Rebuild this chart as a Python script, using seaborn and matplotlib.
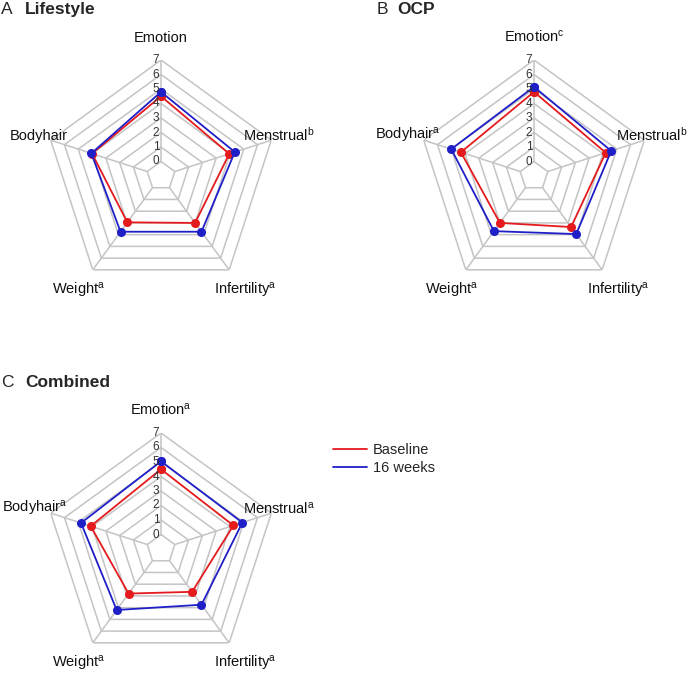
import numpy as np
import pandas as pd
import matplotlib
matplotlib.use("Agg")
import matplotlib.pyplot as plt
from matplotlib.lines import Line2D
import seaborn as sns

# ---------------- data ----------------
categories = ["Emotion", "Menstrual", "Infertility", "Weight", "Bodyhair"]
ring_ticks = [0, 1, 2, 3, 4, 5, 6, 7]
time_labels = ["Baseline", "16 weeks"]

lifestyle_baseline = [4.5, 3.95, 3.0, 2.95, 4.0]
lifestyle_16weeks = [4.8, 4.35, 3.75, 3.75, 4.05]
ocp_baseline = [4.8, 4.2, 3.35, 3.0, 4.3]
ocp_16weeks = [5.15, 4.6, 3.95, 3.7, 5.0]
combined_baseline = [4.5, 4.25, 2.65, 2.8, 4.1]
combined_16weeks = [5.05, 4.9, 3.75, 4.2, 4.8]

panel_letters = ["A", "B", "C"]
panel_titles = ["Lifestyle", "OCP", "Combined"]
lifestyle_sup = ["", "b", "a", "a", ""]
ocp_sup = ["c", "b", "a", "a", "a"]
combined_sup = ["a", "a", "a", "a", "a"]

# ---------------- style ----------------
sns.set_style("white")
plt.rcParams["font.family"] = ["Liberation Sans", "DejaVu Sans"]
plt.rcParams["mathtext.fontset"] = "custom"
plt.rcParams["mathtext.rm"] = "Liberation Sans"
plt.rcParams["mathtext.it"] = "Liberation Sans:italic"
plt.rcParams["mathtext.bf"] = "Liberation Sans:bold"

RED = "#e41a1c"
BLUE = "#1f1fc8"
GRID = "#c4c4c4"
W, H = 688, 673

fig = plt.figure(figsize=(W / 100, H / 100), dpi=100)

R = 116
centers = [(161, 176), (534, 176), (161, 549)]

# label offsets in pixels (dx, dy, ha)
label_offsets = {
    "Emotion": (0, 134, "center"),
    "Menstrual": (82, 35, "left"),
    "Infertility": (53, -119, "left"),
    "Weight": (-56, -119, "right"),
    "Bodyhair": (-93, 36, "right"),
}


def draw(ax, base, wk, sups):
    n = len(categories)
    theta = np.linspace(0, 2 * np.pi, n, endpoint=False)
    tc = np.append(theta, theta[0])
    ax.set_theta_zero_location("N")
    ax.set_theta_direction(-1)
    ax.set_axis_off()
    for r in ring_ticks:
        ax.plot(tc, [r] * (n + 1), color=GRID, lw=1.1, zorder=1)
    for t in theta:
        ax.plot([t, t], [ring_ticks[0], ring_ticks[-1]], color=GRID, lw=1.1, zorder=1)

    rows = []
    for lab, vals in zip(time_labels, [base, wk]):
        vv = list(vals) + [vals[0]]
        for i, (t, v) in enumerate(zip(tc, vv)):
            rows.append({"theta": t, "value": v, "time": lab, "order": i})
    df = pd.DataFrame(rows)
    sns.lineplot(data=df, x="theta", y="value", hue="time",
                 palette={"Baseline": RED, "16 weeks": BLUE},
                 sort=False, estimator=None, marker="o", markersize=6.5,
                 markeredgewidth=0, linewidth=1.3, legend=False, ax=ax, zorder=3)

    for r in ring_ticks:
        ax.annotate(str(r), xy=(0, r), xytext=(-1.2, 0), textcoords="offset points",
                    ha="right", va="center", fontsize=8.5, color="#333333", zorder=5)

    for cat, sup in zip(categories, sups):
        dx, dy, ha = label_offsets[cat]
        txt = cat + (r"$^{\mathregular{%s}}$" % sup if sup else "")
        ax.annotate(txt, xy=(0.5, 0.5), xycoords="axes fraction", xytext=(dx, dy),
                    textcoords="offset pixels", ha=ha, va="baseline",
                    fontsize=10.5, color="#111111", annotation_clip=False)
    ax.set_ylim(-1, 7)


datasets = [(lifestyle_baseline, lifestyle_16weeks, lifestyle_sup),
            (ocp_baseline, ocp_16weeks, ocp_sup),
            (combined_baseline, combined_16weeks, combined_sup)]

for (cx, cy), (b, w, s) in zip(centers, datasets):
    ax = fig.add_axes([(cx - R) / W, 1 - (cy + R) / H, 2 * R / W, 2 * R / H], projection="polar")
    draw(ax, b, w, s)

# panel titles
title_pos = [(1, 14, 25), (377, 14, 397), (1, 387, 25)]
for (lx, by, tx), letter, title in zip(title_pos, panel_letters, panel_titles):
    fig.text(lx / W, 1 - by / H, letter, fontsize=12.5, va="baseline", ha="left")
    fig.text(tx / W, 1 - by / H, title, fontsize=12.5, fontweight="bold", va="baseline", ha="left")

handles = [Line2D([0], [0], color=RED, lw=1.3), Line2D([0], [0], color=BLUE, lw=1.3)]
fig.legend(handles, time_labels, loc="upper left", bbox_to_anchor=(333 / W, 1 - 443 / H),
           frameon=False, fontsize=10.5, handlelength=2.3, handletextpad=0.45,
           labelspacing=0.3, borderpad=0, borderaxespad=0)

fig.savefig("out.png", dpi=100)
